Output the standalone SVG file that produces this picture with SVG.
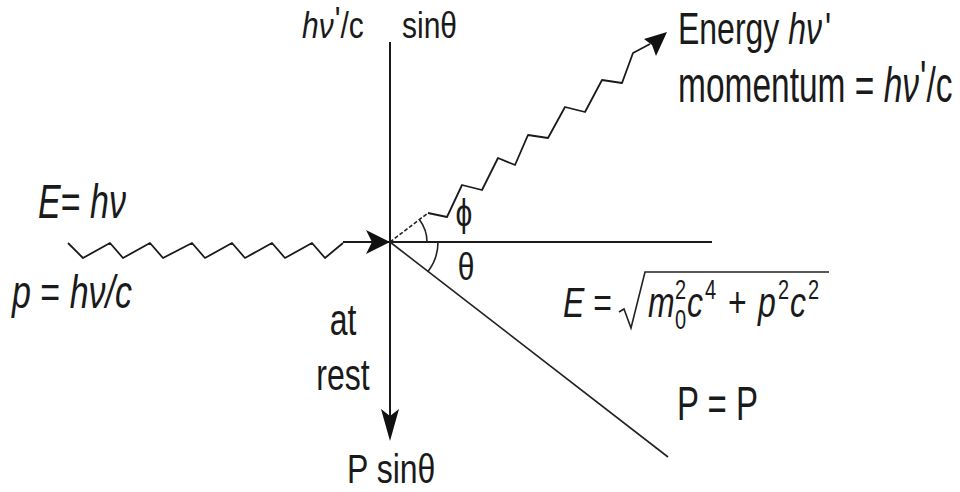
<svg xmlns="http://www.w3.org/2000/svg" width="960" height="492" viewBox="0 0 960 492">
  <defs>
    <style>
      .t { font-family: "Liberation Sans", Arial, sans-serif; fill: #1a1a1a; }
      .i { font-style: italic; }
      .s { font-size: 20px; }
      .ln { stroke: #1a1a1a; stroke-width: 2; fill: none; }
      .thin { stroke: #222; stroke-width: 1.6; fill: none; }
      .wave { stroke: #1a1a1a; stroke-width: 1.8; fill: none; stroke-linejoin: round; }
      .head { fill: #111; stroke: none; }
    </style>
  </defs>
  <rect width="960" height="492" fill="#ffffff"/>

  <g id="connectors">
    <!-- vertical axis with arrow down -->
    <line class="ln" x1="390" y1="42" x2="390" y2="418"/>
    <polygon class="head" points="390,441 381,409 390,416 399,409"/>
    <!-- horizontal axis -->
    <line class="ln" x1="343" y1="242" x2="712" y2="242"/>
    <!-- incoming photon wave -->
    <polyline class="wave" points="68,243 83,258 110,243 123,258 150,243 163,258 192,243 205,258 232,243 245,258 272,243 285,258 312,243 325,258 343,243"/>
    <polygon class="head" points="390,242 366,230 372,242 366,254"/>
    <!-- scattered photon -->
    <line class="thin" x1="390" y1="242" x2="428" y2="213" stroke-dasharray="4 2"/>
    <polyline class="wave" points="428,213 447,217 462,185 482,190 498,158 515,165 528,135 548,138 565,107 585,112 602,80 622,83 633,53 650,44"/>
    <polygon class="head" points="667,32 644,39 652,45 656,56"/>
    <!-- recoil electron -->
    <line class="thin" x1="390" y1="242" x2="668" y2="457"/>
    <!-- angle arcs -->
    <path class="thin" d="M427,242 A37,37 0 0 0 419.5,219.7"/>
    <path class="thin" d="M438,242 A48,48 0 0 1 428,271.4"/>
    <!-- radical -->
    <path class="thin" d="M619,312 L624,309 L631,328 L645,272 L829,272"/>
  </g>

  <g id="label-top">
    <text class="t" font-size="30" transform="translate(302,38) scale(1,1.2)"><tspan class="i">hν</tspan><tspan dx="1" dy="-4">'</tspan><tspan dy="4">/c</tspan></text>
    <text class="t" font-size="30" transform="translate(402,38) scale(1,1.2)">sinθ</text>
  </g>

  <g id="label-scattered">
    <text class="t" font-size="32" transform="translate(678,44) scale(1,1.4)">Energy <tspan class="i">hν</tspan><tspan dx="3">'</tspan></text>
    <text class="t" font-size="33.5" transform="translate(678,102) scale(1,1.5)">momentum = <tspan class="i">hν</tspan><tspan dx="1" dy="-4">'</tspan><tspan dy="4">/c</tspan></text>
  </g>

  <g id="label-incoming">
    <text class="t" font-size="34" transform="translate(38,218) scale(1,1.4)"><tspan class="i">E</tspan>= <tspan class="i">hν</tspan></text>
    <text class="t" font-size="34" transform="translate(12,308) scale(1,1.35)"><tspan class="i">p</tspan> = <tspan class="i">hν/c</tspan></text>
  </g>

  <g id="label-rest">
    <text class="t" font-size="32" text-anchor="middle" transform="translate(343,335) scale(1,1.4)">at</text>
    <text class="t" font-size="32" text-anchor="middle" transform="translate(343,390) scale(1,1.4)">rest</text>
  </g>

  <g id="label-angles">
    <text class="t" font-size="30" text-anchor="middle" transform="translate(464,226) scale(1,1.3)">ϕ</text>
    <text class="t" font-size="30" text-anchor="middle" transform="translate(466,280) scale(1,1.3)">θ</text>
  </g>

  <g id="label-energy">
    <text class="t" font-size="32" transform="translate(563,317) scale(1,1.35)"><tspan class="i">E</tspan> = <tspan x="85" class="i">m</tspan><tspan class="s" x="112" dy="-13">2</tspan><tspan class="s" x="112" dy="22">0</tspan><tspan class="i" x="124" dy="-9">c</tspan><tspan class="s" x="142" dy="-13">4</tspan><tspan x="165" dy="13">+</tspan><tspan class="i" x="195">p</tspan><tspan class="s" x="215" dy="-13">2</tspan><tspan class="i" x="227" dy="13">c</tspan><tspan class="s" x="245" dy="-13">2</tspan></text>
  </g>

  <g id="label-bottom">
    <text class="t" font-size="32" transform="translate(347,483) scale(1,1.25)">P sinθ</text>
    <text class="t" font-size="33" transform="translate(677,420) scale(1,1.45)">P = P</text>
  </g>
</svg>
